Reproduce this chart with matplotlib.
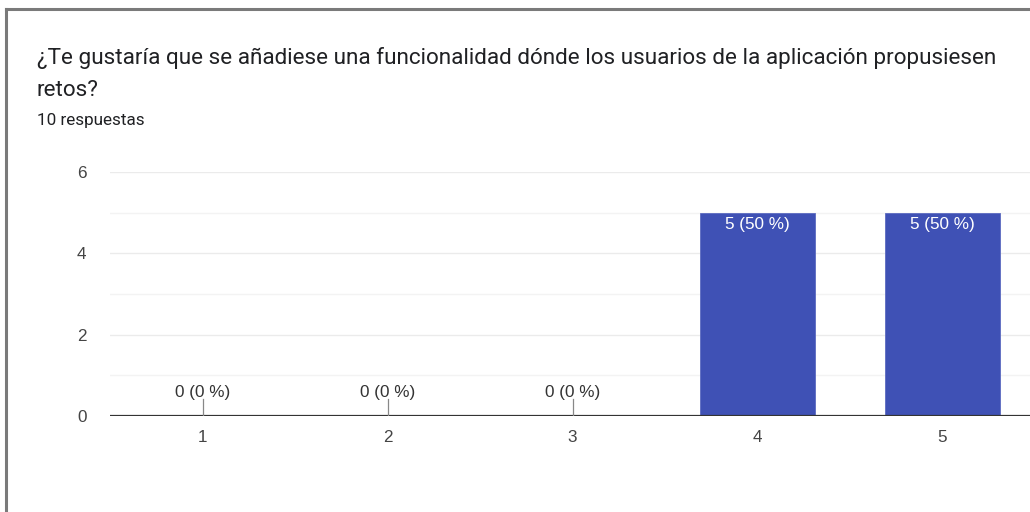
import matplotlib
matplotlib.use("Agg")
import matplotlib.pyplot as plt
from matplotlib.lines import Line2D

categories = ["1", "2", "3", "4", "5"]
counts = [0, 0, 0, 5, 5]
total = 10
title_lines = ["¿Te gustaría que se añadiese una funcionalidad dónde los usuarios de la aplicación propusiesen",
               "retos?"]
subtitle = "10 respuestas"
y_ticks = [0, 2, 4, 6]

W, H = 1030, 512
plt.rcParams['font.family'] = ['Roboto', 'DejaVu Sans']
chart_font = ['Liberation Sans', 'DejaVu Sans']

fig = plt.figure(figsize=(W / 100, H / 100), dpi=100)
fig.patch.set_facecolor("white")

# card border (left and top edges)
fig.add_artist(Line2D([6 / W, 6 / W], [0, 1 - 9 / H], color="#7a7a7a", lw=2.2,
                      transform=fig.transFigure))
fig.add_artist(Line2D([6 / W, 1], [1 - 9 / H, 1 - 9 / H], color="#7a7a7a", lw=2.2,
                      transform=fig.transFigure))

# header text
fig.text(37 / W, 1 - 58 / H, title_lines[0], fontsize=16.2, color="#202124", va="center", ha="left")
fig.text(37 / W, 1 - 91 / H, title_lines[1], fontsize=16.2, color="#202124", va="center", ha="left")
fig.text(37 / W, 1 - 121 / H, subtitle, fontsize=12.3, color="#202124", va="center", ha="left")

# plot area
left, right_px = 110, 110 + 925
bottom, top = 416, 172
ax = fig.add_axes([left / W, 1 - bottom / H, (right_px - left) / W, (bottom - top) / H])
ax.set_xlim(0.5, 5.5)
ax.set_ylim(0, 6)

xs = list(range(1, len(categories) + 1))
ax.bar(xs, counts, width=0.62, color="#3f51b5", edgecolor="#5c6bc0", linewidth=0.6, zorder=3)

# gridlines
for v in range(1, 7):
    ax.axhline(v, color="#ebebeb" if v % 2 == 0 else "#f3f3f3", lw=1.0, zorder=1)
ax.axhline(0, color="#333333", lw=1.6, zorder=4)

for s in ax.spines.values():
    s.set_visible(False)

ax.set_yticks(y_ticks)
ax.set_yticklabels([str(t) for t in y_ticks], family=chart_font)
ax.set_xticks(xs)
ax.set_xticklabels(categories, family=chart_font)
ax.tick_params(axis="both", length=0, labelsize=12.3, colors="#444444")
ax.tick_params(axis="y", pad=17)
ax.tick_params(axis="x", pad=10)

# value labels
px_per_unit = (bottom - top) / 6
for x, c in zip(xs, counts):
    label = f"{c} ({round(100 * c / total)} %)"
    if c > 0:
        ax.annotate(label, (x, c), xytext=(0, -12 * 0.72), textcoords="offset points",
                    ha="center", va="center", color="white", fontsize=12.3,
                    family=chart_font, zorder=5)
    else:
        ax.plot([x, x], [0, 17 / px_per_unit], color="#888888", lw=0.9, zorder=5)
        ax.annotate(label, (x, 0), xytext=(0, 23 * 0.72), textcoords="offset points",
                    ha="center", va="center", color="#333333", fontsize=12.3,
                    family=chart_font, zorder=5)

fig.savefig("out.png", dpi=100, facecolor="white")
